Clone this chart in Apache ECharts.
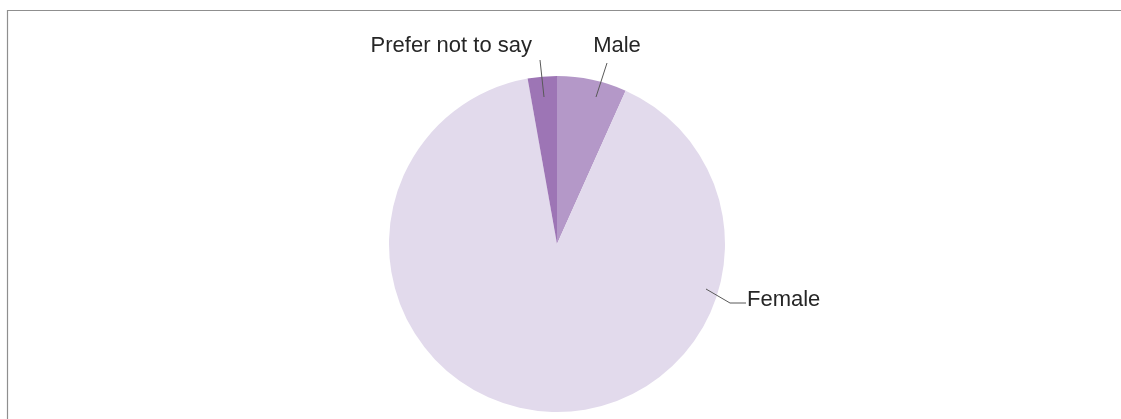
<!DOCTYPE html>
<html>
<head>
<meta charset="utf-8">
<script src="https://cdn.jsdelivr.net/npm/echarts@6/dist/echarts.min.js"></script>
<style>
html,body{margin:0;padding:0;background:#fff;}
#chart{width:1121px;height:419px;}
</style>
</head>
<body>
<div id="chart"></div>
<script>
// Data (percent share)
var categories = ['Male', 'Female', 'Prefer not to say'];
var values = [6.7, 90.5, 2.8];

// Styling
var sliceColors = ['#b498c8', '#e2daec', '#9d75b5'];
var labelFont = '"Liberation Sans", sans-serif';

// Label placement (text anchor + leader line points), in pixels
var labelPlacement = {
  'Male': { x: 617, y: 46, align: 'center', line: [[596, 97], [607, 63]] },
  'Female': { x: 747, y: 300, align: 'left', line: [[706, 289], [730, 303], [746, 303]] },
  'Prefer not to say': { x: 532, y: 46, align: 'right', line: [[544, 97], [540, 60]] }
};

var chart = echarts.init(document.getElementById('chart'), null, { renderer: 'canvas' });

var leaderLines = categories.map(function (c) {
  return {
    type: 'polyline',
    shape: { points: labelPlacement[c].line },
    style: { stroke: '#595959', lineWidth: 1, fill: null },
    silent: true,
    z: 10
  };
});

var option = {
  backgroundColor: '#ffffff',
  animation: false,
  graphic: [{
    type: 'rect',
    shape: { x: 7.5, y: 10.5, width: 1300, height: 600 },
    style: { fill: 'none', stroke: '#8f8f8f', lineWidth: 1.2 },
    silent: true,
    z: 0
  }].concat(leaderLines),
  series: [{
    type: 'pie',
    center: [557, 244],
    radius: [0, 168],
    startAngle: 90,
    clockwise: true,
    avoidLabelOverlap: false,
    z: 2,
    data: categories.map(function (c, i) {
      return { name: c, value: values[i], itemStyle: { color: sliceColors[i] } };
    }),
    itemStyle: { borderWidth: 0 },
    label: {
      show: true,
      position: 'outside',
      formatter: '{b}',
      fontFamily: labelFont,
      fontSize: 22,
      color: '#262626'
    },
    labelLine: { show: false },
    labelLayout: function (params) {
      var p = labelPlacement[categories[params.dataIndex]];
      return {
        x: p.x,
        y: p.y,
        align: p.align,
        verticalAlign: 'middle'
      };
    },
    emphasis: { disabled: true }
  }]
};
chart.setOption(option);
</script>
</body>
</html>
